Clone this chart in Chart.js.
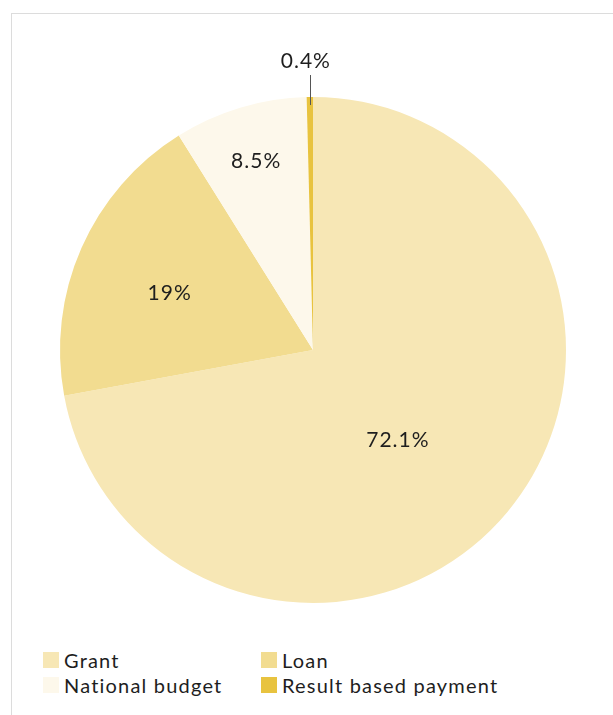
<!DOCTYPE html>
<html>
<head>
<meta charset="utf-8">
<script src="https://cdn.jsdelivr.net/npm/chart.js@4/dist/chart.umd.min.js"></script>
<style>
  body { margin: 0; background: #fff; font-family: Lato, "Noto Sans", sans-serif; }
  #wrap { position: relative; width: 613px; height: 715px; overflow: hidden; }
  #frame { position: absolute; left: 11px; top: 13px; width: 700px; height: 800px; border: 1px solid #dcdcdc; }
  #pie { position: absolute; left: 0; top: 0; }
  #legend { position: absolute; left: 43px; top: 649px; display: grid; grid-template-columns: 218px auto; row-gap: 3px; }
  .item { display: flex; align-items: center; font-size: 20px; letter-spacing: 1.2px; color: #1e1e1e; height: 22px; }
  .box { width: 16px; height: 16px; margin-right: 5px; }
</style>
</head>
<body>
<div id="wrap">
  <div id="frame"></div>
  <canvas id="pie" width="613" height="630"></canvas>
  <div id="legend"></div>
</div>
<script>
// --- DATA ---
const kategoriler = ["Grant", "Loan", "National budget", "Result based payment"];
const yuzdeler = [72.1, 19, 8.5, 0.4];
const etiketler = ["72.1%", "19%", "8.5%", "0.4%"];
const renkler = ["#f7e7b5", "#f2dc90", "#fdf8eb", "#e8c33f"];

// label distance from centre (fraction of radius); null = outside with a line
const etiketMesafe = [0.49, 0.61, 0.78, null];
// small angle nudge (degrees) for label placement
const etiketAci = [7, -2, 0, 0];

const etiketPlugin = {
    id: 'etiketler',
    afterDatasetsDraw(chart) {
        const ctx = chart.ctx;
        const arcs = chart.getDatasetMeta(0).data;
        ctx.save();
        ctx.font = '21px Lato, "Noto Sans", sans-serif';
        ctx.letterSpacing = '1px';
        ctx.fillStyle = '#1e1e1e';
        ctx.textAlign = 'center';
        ctx.textBaseline = 'middle';
        arcs.forEach((arc, i) => {
            const mid = (arc.startAngle + arc.endAngle) / 2 + etiketAci[i] * Math.PI / 180;
            const r = arc.outerRadius;
            if (etiketMesafe[i] !== null) {
                const d = r * etiketMesafe[i];
                ctx.fillText(etiketler[i], arc.x + Math.cos(mid) * d, arc.y + Math.sin(mid) * d);
            } else {
                const x = arc.x + Math.cos(mid) * r;
                const yTop = arc.y + Math.sin(mid) * r;
                ctx.strokeStyle = '#555';
                ctx.lineWidth = 1;
                ctx.beginPath();
                ctx.moveTo(Math.round(x) + 0.5, yTop + 8);
                ctx.lineTo(Math.round(x) + 0.5, yTop - 22);
                ctx.stroke();
                ctx.fillText(etiketler[i], x - 4, yTop - 36);
            }
        });
        ctx.restore();
    }
};

const chart = new Chart(document.getElementById('pie'), {
    type: 'pie',
    data: {
        labels: kategoriler,
        datasets: [{ data: yuzdeler, backgroundColor: renkler, borderWidth: 0 }]
    },
    options: {
        responsive: false,
        animation: false,
        layout: { padding: { left: 60, right: 47, top: 97, bottom: 27 } },
        plugins: { legend: { display: false }, tooltip: { enabled: false } }
    },
    plugins: [etiketPlugin]
});

// HTML legend
const legend = document.getElementById('legend');
kategoriler.forEach((k, i) => {
    legend.innerHTML += `<div class="item"><span class="box" style="background:${renkler[i]}"></span>${k}</div>`;
});
</script>
</body>
</html>
